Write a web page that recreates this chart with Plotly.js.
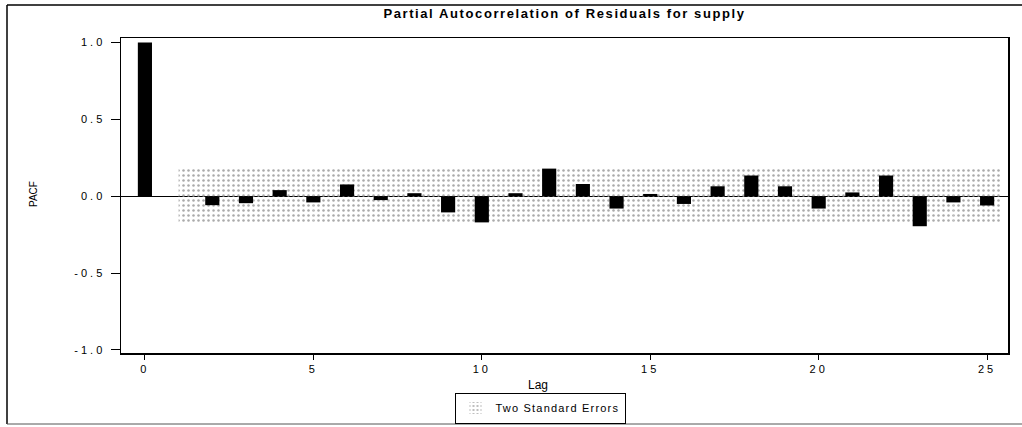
<!DOCTYPE html>
<html>
<head>
<meta charset="utf-8">
<script src="https://cdn.plot.ly/plotly-3.0.1.min.js"></script>
<style>
  html, body { margin: 0; padding: 0; background: #fff; }
  #chart { width: 1022px; height: 427px; }
  .xtick text, .ytick text { letter-spacing: 3px; }
  .gtitle { letter-spacing: 1.6px; }
  .legendtext { letter-spacing: 1.2px; }
</style>
</head>
<body>
<div id="chart"></div>
<script>
// ---- data ----
const lags = [0,1,2,3,4,5,6,7,8,9,10,11,12,13,14,15,16,17,18,19,20,21,22,23,24,25];
const pacf = [1.0,0.0,-0.058,-0.045,0.04,-0.04,0.077,-0.025,0.02,-0.105,-0.17,0.02,0.18,0.08,-0.08,0.015,-0.05,0.065,0.135,0.065,-0.08,0.025,0.135,-0.195,-0.04,-0.06];
const bandLags = [1,2,3,4,5,6,7,8,9,10,11,12,13,14,15,16,17,18,19,20,21,22,23,24,25];
const bandUpper = [0.18,0.18,0.18,0.18,0.18,0.18,0.18,0.18,0.18,0.18,0.18,0.18,0.18,0.18,0.18,0.18,0.18,0.18,0.18,0.18,0.18,0.18,0.18,0.18,0.18];
const bandLower = [-0.18,-0.18,-0.18,-0.18,-0.18,-0.18,-0.18,-0.18,-0.18,-0.18,-0.18,-0.18,-0.18,-0.18,-0.18,-0.18,-0.18,-0.18,-0.18,-0.18,-0.18,-0.18,-0.18,-0.18,-0.18];
const yTickVals = [-1, -0.5, 0, 0.5, 1];
const yTickText = ['-1.0', '-0.5', '0.0', '0.5', '1.0'];
const xTickVals = [0, 5, 10, 15, 20, 25];
const titleText = 'Partial Autocorrelation of Residuals for supply';
const xTitle = 'Lag';
const yTitle = 'PACF';
const legendName = 'Two Standard Errors';

// ---- layout geometry ----
const W = 1022, H = 427;
const M = {l: 121, r: 14, t: 38, b: 74};
const pw = W - M.l - M.r, ph = H - M.t - M.b;
const px = v => (v - M.l) / pw;          // pixel x -> paper x
const py = v => (H - M.b - v) / ph;      // pixel y -> paper y

const font = 'Liberation Sans, Arial, sans-serif';

// band drawn as bars spanning [lag, lag+1], last one shortened
const bandWidths = bandLags.map((_, i) => i === bandLags.length - 1 ? 0.4 : 1);

const traces = [
  { x: bandLags, base: bandLower, y: bandUpper.map((u, i) => u - bandLower[i]), type: 'bar',
    width: bandWidths, offset: 0,
    marker: {color: 'rgba(0,0,0,0)', line: {width: 0},
             pattern: {shape: '.', fgcolor: '#aaaaaa', bgcolor: 'rgba(0,0,0,0)', size: 5, solidity: 0.2}},
    name: legendName, showlegend: true, hoverinfo: 'skip' },
  { x: lags, y: pacf, type: 'bar', width: 0.42,
    marker: {color: '#000', line: {width: 0}}, showlegend: false, name: 'PACF' }
];

const layout = {
  width: W, height: H,
  margin: M,
  barmode: 'overlay',
  paper_bgcolor: '#fff', plot_bgcolor: '#fff',
  font: {family: font, size: 11, color: '#000'},
  title: {text: '<b>' + titleText + '</b>', font: {family: font, size: 13, color: '#000'},
          x: 0.5, xref: 'paper', xanchor: 'center', y: 1 - 13 / H, yref: 'container', yanchor: 'middle'},
  xaxis: {range: [-0.71, 25.62], tickvals: xTickVals, ticks: 'outside', ticklen: 5, tickwidth: 1,
          tickcolor: '#000', showline: true, linecolor: '#000', linewidth: 1.5, mirror: true,
          showgrid: false, zeroline: false, tickfont: {size: 11, family: font}, fixedrange: true},
  yaxis: {range: [-1.02, 1.03], tickvals: yTickVals, ticktext: yTickText, ticks: 'outside', ticklen: 9,
          tickwidth: 1, tickcolor: '#000', showline: true, linecolor: '#000', linewidth: 1.5, mirror: true,
          showgrid: false, zeroline: true, zerolinecolor: '#000', zerolinewidth: 1.5,
          ticklabelstandoff: 3, tickfont: {size: 11, family: font}, fixedrange: true},
  showlegend: true,
  legend: {x: 540 / W, xref: 'container', xanchor: 'center', y: 1 - 408 / H, yref: 'container', yanchor: 'middle',
           orientation: 'h', bordercolor: '#000', borderwidth: 1, bgcolor: '#fff',
           font: {size: 11, family: font}, itemwidth: 30, tracegroupgap: 0},
  annotations: [
    {text: xTitle, xref: 'paper', yref: 'paper', x: px(538), y: py(385), showarrow: false,
     xanchor: 'center', yanchor: 'middle', font: {size: 12, family: font}},
    {text: yTitle, xref: 'paper', yref: 'paper', x: px(33), y: py(194), showarrow: false,
     textangle: -90, xanchor: 'center', yanchor: 'middle', font: {size: 10, family: font}}
  ],
  shapes: [
    {type: 'line', xref: 'paper', yref: 'paper', x0: px(7), x1: px(1022), y0: py(5), y1: py(5),
     line: {color: '#000', width: 1.5}},
    {type: 'line', xref: 'paper', yref: 'paper', x0: px(7), x1: px(7), y0: py(5), y1: py(424),
     line: {color: '#000', width: 1.5}},
    {type: 'line', xref: 'paper', yref: 'paper', x0: px(7), x1: px(1022), y0: py(424), y1: py(424),
     line: {color: '#555', width: 1}}
  ]
};

Plotly.newPlot('chart', traces, layout, {displayModeBar: false, staticPlot: true});
</script>
</body>
</html>
